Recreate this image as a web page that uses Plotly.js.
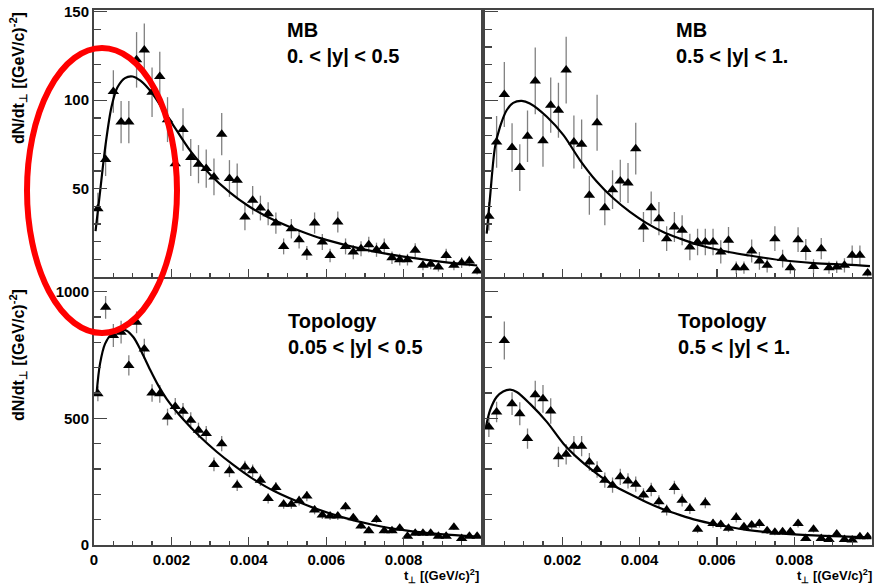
<!DOCTYPE html>
<html>
<head>
<meta charset="utf-8">
<script src="https://cdn.plot.ly/plotly-3.0.1.min.js"></script>
<style>
html,body{margin:0;padding:0;background:#fff;}
#chart{width:885px;height:588px;}
</style>
</head>
<body>
<div id="chart"></div>
<script>
// bin centres of t_perp [(GeV/c)^2]
const tBins = [0.0001,0.0003,0.0005,0.0007,0.0009,0.0011,0.0013,0.0015,0.0017,0.0019,
  0.0021,0.0023,0.0025,0.0027,0.0029,0.0031,0.0033,0.0035,0.0037,0.0039,
  0.0041,0.0043,0.0045,0.0047,0.0049,0.0051,0.0053,0.0055,0.0057,0.0059,
  0.0061,0.0063,0.0065,0.0067,0.0069,0.0071,0.0073,0.0075,0.0077,0.0079,
  0.0081,0.0083,0.0085,0.0087,0.0089,0.0091,0.0093,0.0095,0.0097,0.0099];

// MB, 0 < |y| < 0.5
const mbLowY = [38.6,66.5,104.9,87.6,87.6,122.8,128.4,104.5,113.4,89,
  64,83.4,67.6,63.8,61.3,56.6,80.8,55.7,54.7,34,
  43.4,39,35.8,30.5,17.3,27.3,21.1,13.6,30.5,19.8,
  12.2,31.1,17.3,14.1,16,18.3,15.4,17.3,10.9,9.8,
  9.8,15.1,6.6,7.2,5.6,12.2,6.6,8.1,9,3.4];
const mbLowErr = [9,9.4,12,12,12,15.7,15,14,14,12.7,
  11,12,10.5,10.8,10.8,10.4,12,10.4,9.5,7.5,
  8,7,6.5,6,4.5,5.5,5,4,6,4.5,
  3.8,6,4.5,4,4.2,4.5,4,4.5,3.5,3.3,
  3.3,4,2.8,2.8,2.5,3.8,2.8,3,3,2];
const mbLowFitX = [0.00004,0.00015,0.0003,0.00045,0.0006,0.0008,0.001,0.0012,0.0015,0.0018,0.002,0.0025,0.003,0.0035,0.004,0.0045,0.005,0.0055,0.006,0.007,0.008,0.009,0.0099];
const mbLowFitY = [26,47,75,96,107,112.5,113.4,111,104,94,87.5,71,58,48,40,33.8,28.8,24.6,21,15.5,11.5,8.6,6.5];

// MB, 0.5 < |y| < 1
const mbHighY = [34.3,76.4,103.2,73.2,61.9,79.6,110.9,77,97.2,94.3,
  117,76.4,75.1,46.2,87.2,39.2,49.4,54.3,53.2,72.6,
  28.3,39.2,33,21.7,28.3,26.4,17,19.8,19.8,19.8,
  14.2,20.8,5.3,5.3,14.7,9.1,6.6,21.7,10.4,5.3,
  21.1,15.5,6,16,5.3,5.7,6.6,12.3,12.3,2.3];
const mbHighErr = [8,14.6,18.4,13.7,13.2,14.6,18.9,14.6,15.6,15.6,
  18.9,15,14,11,15.8,10,11,12,11.3,14.6,
  8.5,9.2,9.4,7,8.5,8.5,7.5,7.5,7.5,7.5,
  6.6,7.5,3.5,3.5,6.5,5,4,7,5,3.5,
  7,6,4,6,3.5,3.5,4,5.5,5.5,2];
const mbHighFitX = [0.000044,0.00013,0.00026,0.00039,0.00056,0.00073,0.00095,0.00116,0.0016,0.00203,0.00246,0.00289,0.00332,0.00375,0.00418,0.00461,0.00505,0.00548,0.00591,0.00634,0.00677,0.00763,0.0085,0.00936,0.00996];
const mbHighFitY = [24.5,45,73.6,85,94.3,98.5,99.6,98.1,90.6,80.2,66,54,44.5,36.8,30.5,25.5,21.7,18.4,16,14,12.4,9.6,7.9,7,6.2];

// Topology, 0.05 < |y| < 0.5
const topoLowY = [597,938,827,840,709,879,774,600,597,505,
  547,528,492,453,440,318,400,293,236,308,
  293,256,184,227,161,161,175,193,138,118,
  114,114,151,108,75,56,101,56,56,66,
  35,46,46,46,35,35,70,26,35,35];
const topoLowErr = [30,45,45,45,40,43,40,35,35,33,
  33,33,32,30,30,27,30,25,23,25,
  25,23,20,22,18,18,19,20,17,15,
  15,15,17,14,12,10,14,10,10,11,
  8,9,9,9,8,8,11,7,8,8];
const topoLowFitX = [0.00007,0.000155,0.000285,0.000458,0.000673,0.000846,0.00102,0.00123,0.00145,0.00166,0.00188,0.00231,0.00274,0.00317,0.0036,0.00404,0.00464,0.0055,0.00636,0.00723,0.00809,0.00895,0.0099];
const topoLowFitY = [604,715,794,833,849,846,820,762,692,630,576,495,427,368,316,268,214,157,112,79,57,43,33];

// Topology, 0.5 < |y| < 1
const topoHighY = [466,525,807,558,518,420,593,577,529,348,
  358,390,390,328,298,256,236,269,253,240,
  197,219,171,138,227,177,144,62,167,85,
  81,66,109,72,79,85,56,50,52,52,
  85,26,62,26,22,43,22,20,33,33];
const topoHighErr = [40,40,75,45,45,40,55,55,50,40,
  40,40,40,35,33,30,30,32,30,30,
  27,27,25,22,27,25,22,15,22,17,
  17,15,20,15,16,17,13,12,12,12,
  16,10,13,10,9,11,9,8,10,10];
const topoHighFitX = [0.000026,0.00013,0.0003,0.00047,0.00065,0.00082,0.00116,0.0016,0.00203,0.00246,0.00289,0.00332,0.00375,0.00418,0.00461,0.00505,0.00548,0.00591,0.00677,0.00763,0.0085,0.00936,0.00996];
const topoHighFitY = [466,531,584,606,613,604,558,486,400,335,282,236,201,169,141,118,98,83,60,46,38,33,30];

// tick labels
const xMajorVals = [0,0.002,0.004,0.006,0.008,0.01];
const xLeftTickVals = [0,0.002,0.004,0.006,0.008];
const xLeftTickText = ['0','0.002','0.004','0.006','0.008'];
const xRightTickVals = [0.002,0.004,0.006,0.008,0.01];
const xRightTickText = ['0.002','0.004','0.006','0.008','0.01'];
const yTopTickVals = [50,100,150];
const yTopTickText = ['50','100','150'];
const yBotTickVals = [0,500,1000];
const yBotTickText = ['0','500','1000'];

const panelLabels = [
  'MB<br>0. < |y| < 0.5',
  'MB<br>0.5 < |y| < 1.',
  'Topology<br>0.05 < |y| < 0.5',
  'Topology<br>0.5 < |y| < 1.'
];
const yTitle = 'dN/dt<sub>⊥</sub> [(GeV/c)<sup>-2</sup>]';
const xTitle = 't<sub>⊥</sub> [(GeV/c)<sup>2</sup>]';

const W = 885, H = 588;
const px = v => v / W;
const py = v => 1 - v / H;

function pts(xa, ya, y, err) {
  return {
    type: 'scatter', mode: 'markers', x: tBins, y: y, xaxis: xa, yaxis: ya,
    marker: {symbol: 'triangle-up', size: 10, color: '#000'},
    error_y: {type: 'data', array: err, visible: true, color: '#808080', thickness: 1.3, width: 0},
    showlegend: false, hoverinfo: 'skip'
  };
}
function fit(xa, ya, x, y) {
  return {
    type: 'scatter', mode: 'lines', x: x, y: y, xaxis: xa, yaxis: ya,
    line: {color: '#000', width: 2.2, shape: 'spline', smoothing: 0.9},
    showlegend: false, hoverinfo: 'skip'
  };
}

const data = [
  pts('x', 'y', mbLowY, mbLowErr), fit('x', 'y', mbLowFitX, mbLowFitY),
  pts('x2', 'y2', mbHighY, mbHighErr), fit('x2', 'y2', mbHighFitX, mbHighFitY),
  pts('x3', 'y3', topoLowY, topoLowErr), fit('x3', 'y3', topoLowFitX, topoLowFitY),
  pts('x4', 'y4', topoHighY, topoHighErr), fit('x4', 'y4', topoHighFitX, topoHighFitY)
];

const tickFont = {family: 'Liberation Sans, Arial, sans-serif', size: 15, color: '#000', weight: 'bold'};

function xAxis(domain, anchor, vals, text, showLabels) {
  return {
    domain: domain, anchor: anchor, range: [0, 0.01], fixedrange: true,
    showgrid: false, zeroline: false, showline: true, mirror: true,
    linecolor: '#444', linewidth: 2,
    ticks: 'inside', ticklen: 8, tickwidth: 1.3, tickcolor: '#444',
    tickmode: 'array', tickvals: vals, ticktext: text, showticklabels: showLabels,
    tickfont: tickFont,
    minor: {ticks: 'inside', ticklen: 4, tickwidth: 1.3, tickcolor: '#444', tickmode: 'linear', tick0: 0, dtick: 0.0005, showgrid: false}
  };
}
function yAxis(domain, anchor, range, vals, text, showLabels, minorD) {
  return {
    domain: domain, anchor: anchor, range: range, fixedrange: true,
    showgrid: false, zeroline: false, showline: true, mirror: true,
    linecolor: '#444', linewidth: 2,
    ticks: 'inside', ticklen: 13, tickwidth: 1.3, tickcolor: '#444',
    tickmode: 'array', tickvals: vals, ticktext: text, showticklabels: showLabels,
    tickfont: tickFont,
    minor: {ticks: 'inside', ticklen: 7, tickwidth: 1.3, tickcolor: '#444', tickmode: 'linear', tick0: 0, dtick: minorD, showgrid: false}
  };
}

const xL = [px(94), px(481)];
const xR = [px(485), px(871.5)];
const yT = [py(277), py(10)];
const yB = [py(545), py(279)];
const topRange = [0, 151];
const botRange = [0, 1050];

const labelFont = {family: 'Liberation Sans, Arial, sans-serif', size: 20, color: '#000', weight: 'bold'};
const titleFont = {family: 'Liberation Sans, Arial, sans-serif', size: 16, color: '#000', weight: 'bold'};
const xTitleFont = {family: 'Liberation Sans, Arial, sans-serif', size: 13, color: '#000', weight: 'bold'};

const layout = {
  width: W, height: H,
  margin: {l: 0, r: 0, t: 0, b: 0},
  paper_bgcolor: '#fff', plot_bgcolor: '#fff',
  xaxis: xAxis(xL, 'y', xMajorVals, null, false),
  yaxis: yAxis(yT, 'x', topRange, yTopTickVals, yTopTickText, true, 10),
  xaxis2: xAxis(xR, 'y2', xMajorVals, null, false),
  yaxis2: yAxis(yT, 'x2', topRange, yTopTickVals, yTopTickText, false, 10),
  xaxis3: xAxis(xL, 'y3', xLeftTickVals, xLeftTickText, true),
  yaxis3: yAxis(yB, 'x3', botRange, yBotTickVals, yBotTickText, true, 100),
  xaxis4: xAxis(xR, 'y4', xRightTickVals, xRightTickText, true),
  yaxis4: yAxis(yB, 'x4', botRange, yBotTickVals, yBotTickText, false, 100),
  annotations: [
    {xref: 'paper', yref: 'paper', x: px(285), y: py(17), xanchor: 'left', yanchor: 'top', align: 'left', showarrow: false, text: panelLabels[0], font: labelFont},
    {xref: 'paper', yref: 'paper', x: px(674), y: py(17), xanchor: 'left', yanchor: 'top', align: 'left', showarrow: false, text: panelLabels[1], font: labelFont},
    {xref: 'paper', yref: 'paper', x: px(286), y: py(308), xanchor: 'left', yanchor: 'top', align: 'left', showarrow: false, text: panelLabels[2], font: labelFont},
    {xref: 'paper', yref: 'paper', x: px(676), y: py(308), xanchor: 'left', yanchor: 'top', align: 'left', showarrow: false, text: panelLabels[3], font: labelFont},
    {xref: 'paper', yref: 'paper', x: px(18), y: py(10), xanchor: 'center', yanchor: 'top', textangle: -90, showarrow: false, text: yTitle, font: titleFont},
    {xref: 'paper', yref: 'paper', x: px(18), y: py(287), xanchor: 'center', yanchor: 'top', textangle: -90, showarrow: false, text: yTitle, font: titleFont},
    {xref: 'paper', yref: 'paper', x: px(481), y: py(565), xanchor: 'right', yanchor: 'top', showarrow: false, text: xTitle, font: xTitleFont},
    {xref: 'paper', yref: 'paper', x: px(874), y: py(565), xanchor: 'right', yanchor: 'top', showarrow: false, text: xTitle, font: xTitleFont}
  ],
  shapes: [
    {type: 'circle', xref: 'paper', yref: 'paper', x0: px(27), x1: px(177), y0: py(333), y1: py(48), line: {color: '#ff0000', width: 6}, layer: 'above'}
  ]
};

Plotly.newPlot('chart', data, layout, {staticPlot: true, displayModeBar: false});
</script>
</body>
</html>
